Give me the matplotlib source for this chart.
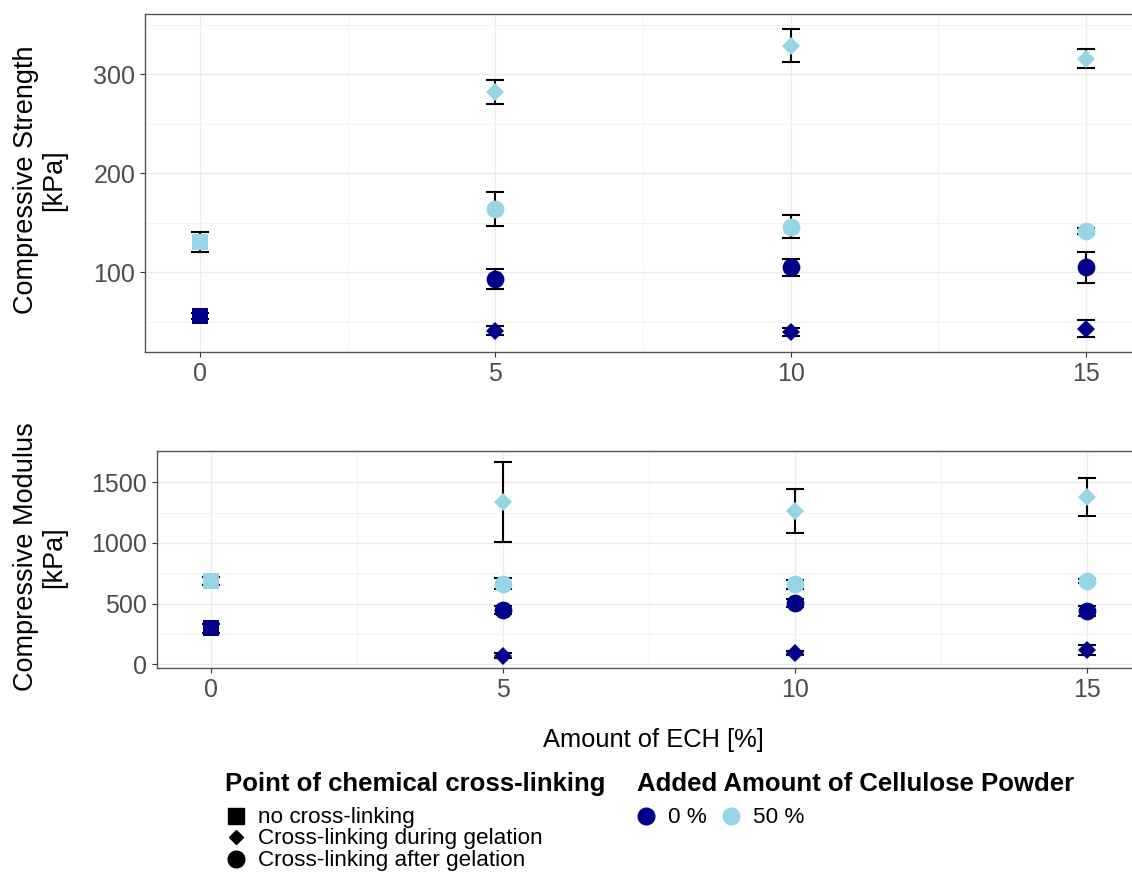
import matplotlib
matplotlib.use("Agg")
import matplotlib.pyplot as plt
from matplotlib.lines import Line2D
from matplotlib.ticker import MultipleLocator

plt.rcParams['font.family'] = ['Liberation Sans', 'DejaVu Sans']

# ECH amount [%]
ech_none = [0]
ech_xl = [5, 10, 15]

# compressive strength [kPa]
strength_none_0 = [56]
strength_none_0_err = [3]
strength_none_50 = [131]
strength_none_50_err = [10]
strength_during_0 = [41, 40, 43]
strength_during_0_err = [4.5, 4, 8.5]
strength_during_50 = [282, 329, 316]
strength_during_50_err = [12, 17, 10]
strength_after_0 = [93, 105, 105]
strength_after_0_err = [10, 8.5, 16]
strength_after_50 = [164, 146, 142]
strength_after_50_err = [17, 11.5, 3]

# compressive modulus [kPa]
modulus_none_0 = [297]
modulus_none_0_err = [35]
modulus_none_50 = [687]
modulus_none_50_err = [30]
modulus_during_0 = [71, 91, 118]
modulus_during_0_err = [20, 15, 45]
modulus_during_50 = [1340, 1262, 1380]
modulus_during_50_err = [330, 182, 155]
modulus_after_0 = [448, 505, 440]
modulus_after_0_err = [35, 30, 40]
modulus_after_50 = [665, 659, 687]
modulus_after_50_err = [45, 40, 20]

crosslink_labels = ["no cross-linking", "Cross-linking during gelation", "Cross-linking after gelation"]
cellulose_labels = ["0 %", "50 %"]

DARK = "#00008B"
LIGHT = "#96D5E5"
MARKERS = {"none": ("s", 12), "during": ("D", 8.8), "after": ("o", 12.8)}


def draw_panel(ax, series, ylim, major, minor):
    """Draw one panel with error bars and points."""
    for x, y, err, kind, color in series:
        ax.errorbar(x, y, yerr=err, fmt="none", ecolor="black", elinewidth=1.5,
                    capsize=6.6, capthick=1.5, zorder=2)
    for x, y, err, kind, color in series:
        marker, size = MARKERS[kind]
        ax.plot(x, y, linestyle="none", marker=marker, markersize=size,
                color=color, markeredgewidth=0, zorder=3)
    ax.set_xlim(-0.93, 15.93)
    ax.set_ylim(*ylim)
    ax.xaxis.set_major_locator(MultipleLocator(5))
    ax.xaxis.set_minor_locator(MultipleLocator(2.5))
    ax.yaxis.set_major_locator(MultipleLocator(major))
    ax.yaxis.set_minor_locator(MultipleLocator(minor))
    ax.grid(which="major", color="#EBEBEB", linewidth=1.0, zorder=0)
    ax.grid(which="minor", color="#F3F3F3", linewidth=0.7, zorder=0)
    ax.set_axisbelow(True)
    for side in ["left", "bottom", "top"]:
        ax.spines[side].set_color("#555555")
        ax.spines[side].set_linewidth(1.0)
    ax.spines["right"].set_visible(False)
    ax.tick_params(which="major", length=3.5, width=0.8, color="#333333",
                   labelsize=18, labelcolor="#4D4D4D", pad=3.5)
    ax.tick_params(which="minor", length=0)


fig = plt.figure(figsize=(11.32, 8.72), dpi=100)
W, H = 1132, 872

ax_top = fig.add_axes([145 / W, 1 - 352 / H, (1141 - 145) / W, (352 - 14) / H])
ax_bot = fig.add_axes([157 / W, 1 - 668 / H, (1141 - 157) / W, (668 - 451) / H])

draw_panel(ax_top, [
    (ech_none, strength_none_0, strength_none_0_err, "none", DARK),
    (ech_none, strength_none_50, strength_none_50_err, "none", LIGHT),
    (ech_xl, strength_during_0, strength_during_0_err, "during", DARK),
    (ech_xl, strength_during_50, strength_during_50_err, "during", LIGHT),
    (ech_xl, strength_after_0, strength_after_0_err, "after", DARK),
    (ech_xl, strength_after_50, strength_after_50_err, "after", LIGHT),
], (19.5, 361), 100, 50)

draw_panel(ax_bot, [
    (ech_none, modulus_none_0, modulus_none_0_err, "none", DARK),
    (ech_none, modulus_none_50, modulus_none_50_err, "none", LIGHT),
    (ech_xl, modulus_during_0, modulus_during_0_err, "during", DARK),
    (ech_xl, modulus_during_50, modulus_during_50_err, "during", LIGHT),
    (ech_xl, modulus_after_0, modulus_after_0_err, "after", DARK),
    (ech_xl, modulus_after_50, modulus_after_50_err, "after", LIGHT),
], (-30, 1758), 500, 250)

# axis titles
fig.text(40 / W, 1 - 180 / H, "Compressive Strength\n[kPa]", rotation=90,
         ha="center", va="center", multialignment="center", fontsize=19.5,
         linespacing=1.1)
fig.text(40 / W, 1 - 557 / H, "Compressive Modulus\n[kPa]", rotation=90,
         ha="center", va="center", multialignment="center", fontsize=19.5,
         linespacing=1.1)
fig.text(653 / W, 1 - 740 / H, "Amount of ECH [%]", ha="center", va="center",
         fontsize=18.4)

# legends
fig.text(225 / W, 1 - 784 / H, "Point of chemical cross-linking", ha="left",
         va="center", fontsize=18.5, fontweight="bold")
fig.text(637 / W, 1 - 784 / H, "Added Amount of Cellulose Powder", ha="left",
         va="center", fontsize=18.5, fontweight="bold")

shape_handles = [
    Line2D([], [], linestyle="none", marker="s", markersize=11, color="black"),
    Line2D([], [], linestyle="none", marker="D", markersize=7.5, color="black"),
    Line2D([], [], linestyle="none", marker="o", markersize=12, color="black"),
]
color_handles = [
    Line2D([], [], linestyle="none", marker="o", markersize=12, color=DARK),
    Line2D([], [], linestyle="none", marker="o", markersize=12, color=LIGHT),
]

leg1 = fig.legend(shape_handles, crosslink_labels, loc="upper left",
                  bbox_to_anchor=(227 / W, 1 - 807 / H), frameon=False,
                  fontsize=16.2, handlelength=0.8, handletextpad=0.6,
                  labelspacing=0.02, borderpad=0, borderaxespad=0,
                  handleheight=0.5)
leg2 = fig.legend(color_handles, cellulose_labels, loc="upper left",
                  bbox_to_anchor=(637 / W, 1 - 807 / H), frameon=False,
                  fontsize=16.2, ncol=2, handlelength=0.8, handletextpad=0.6,
                  columnspacing=0.65, borderpad=0, borderaxespad=0,
                  handleheight=0.5)

fig.savefig("out.png", dpi=100)
